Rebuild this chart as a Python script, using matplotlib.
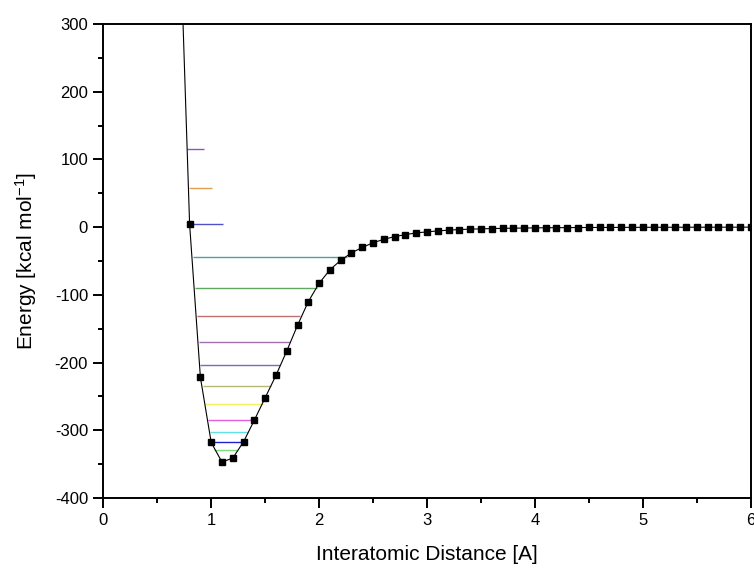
import numpy as np
import matplotlib
matplotlib.use("Agg")
import matplotlib.pyplot as plt
from matplotlib.ticker import MultipleLocator

plt.rcParams['font.family'] = ['Liberation Sans', 'DejaVu Sans']
plt.rcParams['axes.unicode_minus'] = False
plt.rcParams['mathtext.default'] = 'regular'

# potential energy curve (distance in A, energy in kcal/mol)
dist = [0.7, 0.8, 0.9, 1.0, 1.1, 1.2, 1.3, 1.4, 1.5, 1.6, 1.7, 1.8, 1.9, 2.0,
        2.1, 2.2, 2.3, 2.4, 2.5, 2.6, 2.7, 2.8, 2.9, 3.0, 3.1, 3.2, 3.3, 3.4,
        3.5, 3.6, 3.7, 3.8, 3.9, 4.0, 4.1, 4.2, 4.3, 4.4, 4.5, 4.6, 4.7, 4.8,
        4.9, 5.0, 5.1, 5.2, 5.3, 5.4, 5.5, 5.6, 5.7, 5.8, 5.9, 6.0]
energy = [490, 4, -222, -318, -347, -341, -317, -285, -252, -219, -183, -145, -110, -83,
          -63, -49, -38, -30, -23, -18, -14, -11, -8.5, -7, -5.5, -4.5, -3.5, -3,
          -2.5, -2.1, -1.8, -1.5, -1.3, -1.1, -0.9, -0.8, -0.7, -0.6, -0.5, -0.45, -0.4, -0.35,
          -0.3, -0.25, -0.2, -0.18, -0.15, -0.13, -0.1, -0.08, -0.06, -0.05, -0.03, -0.02]

# vibrational levels: energy, left and right turning points
level_e = [-329, -318, -303, -285, -261, -235, -204, -170, -131.5, -90, -44, 4, 57.6, 115]
level_x0 = [1.03, 1.0, 0.99, 0.97, 0.94, 0.92, 0.90, 0.89, 0.87, 0.85, 0.83, 0.80, 0.796, 0.777]
level_x1 = [1.24, 1.30, 1.34, 1.38, 1.48, 1.55, 1.64, 1.73, 1.82, 1.98, 2.26, 1.11, 1.007, 0.93]
level_col = ['#7fdf7f', '#2020d0', '#60e0e0', '#e060e0', '#f0f060', '#b8b870', '#7070b8',
             '#a070b0', '#c07070', '#60a860', '#50a0a0', '#5050c8', '#e0a050', '#9050d0']

fig = plt.figure(figsize=(7.54, 5.72), dpi=100)
ax = fig.add_axes([0.137, 0.1294, 0.8586, 0.8286])

for e, a, b, c in zip(level_e, level_x0, level_x1, level_col):
    ax.hlines(e, a, b, colors=c, linewidth=1.0)

ax.plot(dist, energy, color='black', linewidth=0.8, marker='s', markersize=4.2,
        markerfacecolor='black', markeredgecolor='black')

ax.set_xlim(0, 6)
ax.set_ylim(-400, 300)
ax.xaxis.set_major_locator(MultipleLocator(1))
ax.xaxis.set_minor_locator(MultipleLocator(0.5))
ax.yaxis.set_major_locator(MultipleLocator(100))
ax.yaxis.set_minor_locator(MultipleLocator(50))
ax.tick_params(which='both', direction='out', width=1.4, labelsize=12, pad=4)
ax.tick_params(which='major', length=7)
ax.tick_params(which='minor', length=3.5)
for s in ax.spines.values():
    s.set_linewidth(1.4)

ax.set_xlabel("Interatomic Distance [A]", fontsize=15, labelpad=12)
ax.set_ylabel("Energy [kcal mol$^{-1}$]", fontsize=15, labelpad=11)

fig.savefig("out.png", dpi=100)
